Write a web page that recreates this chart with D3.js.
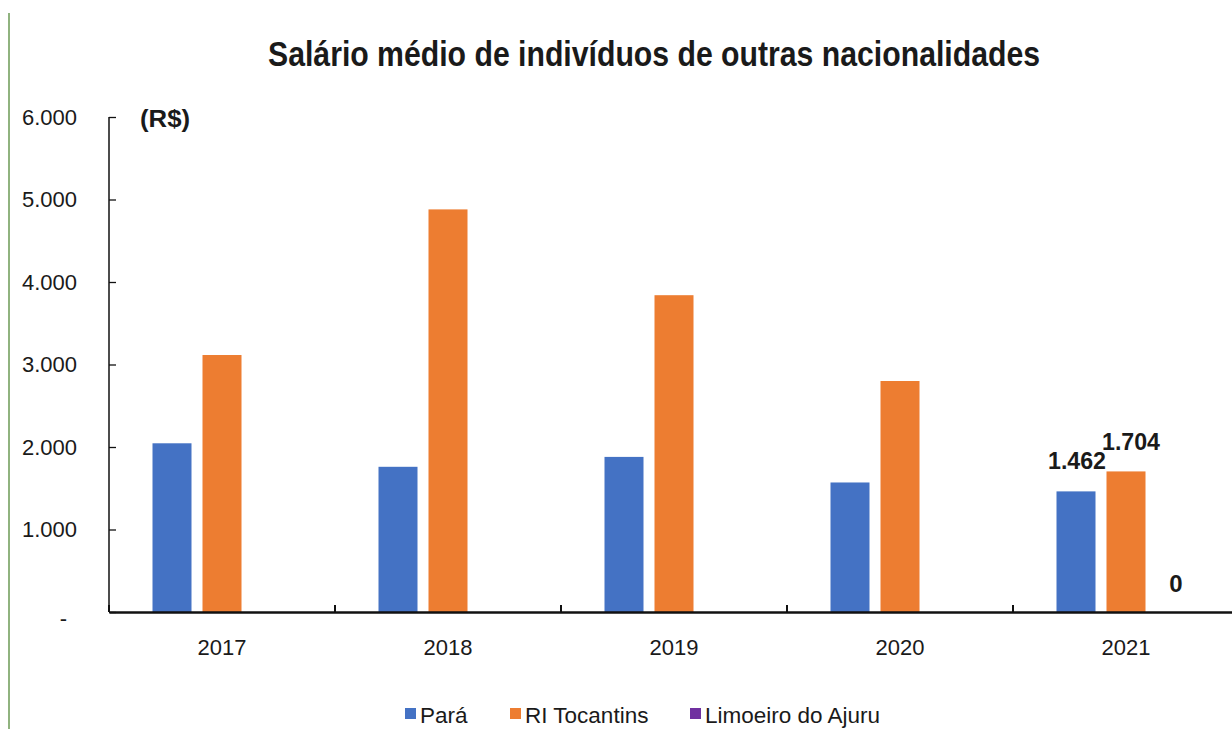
<!DOCTYPE html>
<html><head><meta charset="utf-8">
<script src="https://cdn.jsdelivr.net/npm/d3@7"></script>
<style>
html,body{margin:0;padding:0;background:#fff;}
svg{display:block;}
text{font-family:"Liberation Sans",Arial,sans-serif;fill:#1a1a1a;}
</style></head><body>
<svg id="c" width="1232" height="729"></svg>
<script>
const years = ["2017","2018","2019","2020","2021"];
const seriesNames = ["Pará","RI Tocantins","Limoeiro do Ajuru"];
const para = [2045, 1760, 1880, 1570, 1462];
const riTocantins = [3115, 4880, 3840, 2800, 1704];
const limoeiro = [null, null, null, null, 0];
const yTicks = [0, 1000, 2000, 3000, 4000, 5000, 6000];
const colors = ["#4472c4", "#ed7d31", "#7030a0"];
const titleText = "Salário médio de indivíduos de outras nacionalidades";
const unitText = "(R$)";

const seriesValues = [para, riTocantins, limoeiro];
const svg = d3.select("#c");

const x0 = d3.scaleBand().domain(years).range([109, 1239]).padding(0);
const x1 = d3.scaleBand().domain(seriesNames).range([0, x0.bandwidth()])
  .paddingInner(0.22).paddingOuter(0.87);
const y = d3.scaleLinear().domain([0, 6000]).range([612, 117]);

const fmt = d3.formatLocale({decimal:",", thousands:".", grouping:[3], currency:["R$",""]}).format(",.0f");

// left green border line
svg.append("line").attr("x1",9).attr("x2",9).attr("y1",13).attr("y2",729)
  .attr("stroke","#6b9a55").attr("stroke-width",1.5);

// title
svg.append("text").attr("x",654).attr("y",66).attr("text-anchor","middle")
  .attr("font-family","'Liberation Sans Narrow','Arial Narrow','Liberation Sans',sans-serif")
  .attr("font-weight","bold").attr("font-size",35)
  .attr("textLength",772).attr("lengthAdjust","spacingAndGlyphs")
  .text(titleText);

// unit
svg.append("text").attr("x",140).attr("y",127).attr("font-weight","bold").attr("font-size",24)
  .attr("textLength",50).attr("lengthAdjust","spacingAndGlyphs").text(unitText);

// y axis
const yAxis = d3.axisLeft(y).tickValues(yTicks).tickSize(-7).tickPadding(32)
  .tickFormat(d => d === 0 ? "-" : fmt(d));
const gy = svg.append("g").attr("transform","translate(109,0)").call(yAxis);
gy.select(".domain").attr("stroke","#111").attr("stroke-width",1.5).attr("d","M0,117V612");
gy.selectAll(".tick line").attr("stroke","#111").attr("stroke-width",1.3);
gy.selectAll(".tick text").attr("font-size",22).attr("fill","#222")
  .attr("font-family","'Liberation Sans',Arial,sans-serif");
gy.selectAll(".tick").filter(d => d === 0).select("text").attr("dx",-10).attr("dy","0.6em");

// bars
const g = svg.append("g");
years.forEach((yr, i) => {
  seriesNames.forEach((s, j) => {
    const v = seriesValues[j][i];
    if (v === null || v === undefined) return;
    g.append("rect")
      .attr("x", x0(yr) + x1(s))
      .attr("width", x1.bandwidth())
      .attr("y", y(v))
      .attr("height", y(0) - y(v))
      .attr("fill", colors[j]);
  });
});

// data labels for 2021
const labelYear = "2021";
const li = years.indexOf(labelYear);
const labelDy = [-22, -21, -20];
const labelDx = [1, 5, 0];
seriesNames.forEach((s, j) => {
  const v = seriesValues[j][li];
  if (v === null) return;
  const t = v === 0 ? "0" : fmt(v);
  const el = svg.append("text")
    .attr("x", x0(labelYear) + x1(s) + x1.bandwidth()/2 + labelDx[j])
    .attr("y", y(v) + labelDy[j])
    .attr("text-anchor","middle").attr("font-weight","bold").attr("font-size",24)
    .text(t);
  if (t.length > 1) el.attr("textLength",58).attr("lengthAdjust","spacingAndGlyphs");
});

// x axis
const gx = svg.append("g").attr("transform","translate(0,612)")
  .call(d3.axisBottom(x0).tickSize(0).tickPadding(27));
gx.select(".domain").attr("stroke","#111").attr("stroke-width",2.6);
gx.selectAll(".tick text").attr("font-size",22).attr("fill","#222")
  .attr("font-family","'Liberation Sans',Arial,sans-serif");
// boundary ticks (upward)
gx.selectAll(".bt").data(years).enter().append("line").attr("class","bt")
  .attr("x1", d => x0(d)).attr("x2", d => x0(d))
  .attr("y1", 0).attr("y2", -7).attr("stroke","#111").attr("stroke-width",2);

// legend
const legendX = [405, 510, 690];
const lg = svg.append("g").attr("transform","translate(0,715)");
seriesNames.forEach((s, j) => {
  lg.append("rect").attr("x", legendX[j]).attr("y", -7).attr("width", 11).attr("height", 11).attr("fill", colors[j]);
  lg.append("text").attr("x", legendX[j] + 15).attr("y", 8).attr("font-size", 22.5).attr("fill","#222").text(s);
});
</script>
</body></html>
